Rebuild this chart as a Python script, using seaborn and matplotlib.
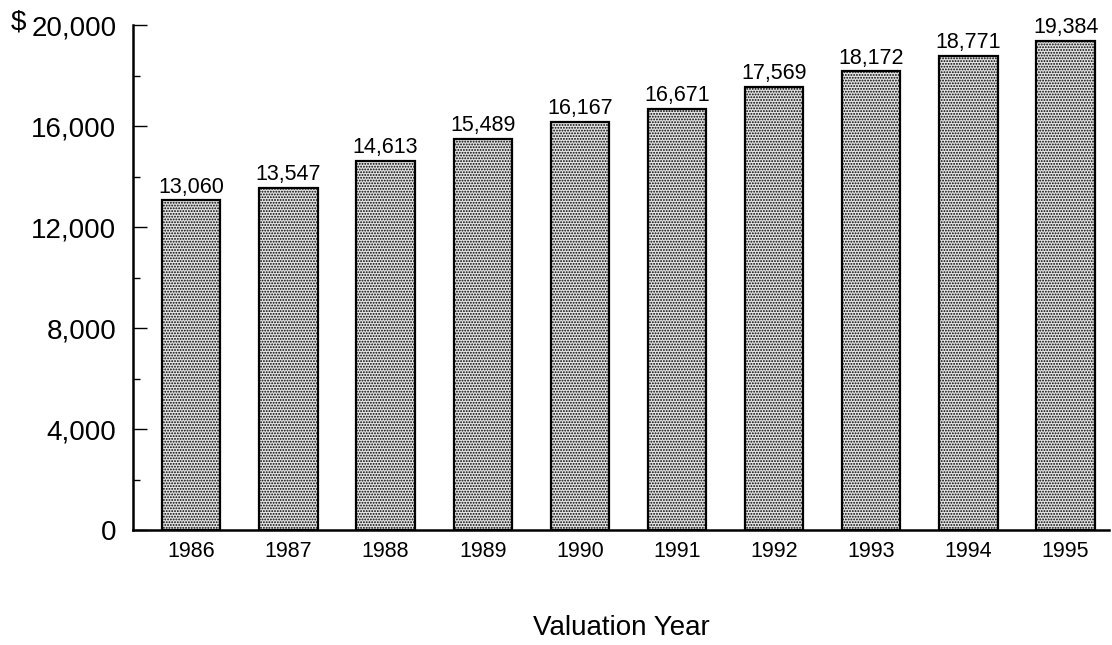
import numpy as np
import pandas as pd
import matplotlib
matplotlib.use("Agg")
import matplotlib.pyplot as plt
import seaborn as sns
from matplotlib.ticker import MultipleLocator, FuncFormatter

years = ["1986", "1987", "1988", "1989", "1990", "1991", "1992", "1993", "1994", "1995"]
values = [13060, 13547, 14613, 15489, 16167, 16671, 17569, 18172, 18771, 19384]

df = pd.DataFrame({"year": years, "value": values})

sns.set_style("white")
plt.rcParams["font.family"] = ["Liberation Sans", "DejaVu Sans"]
plt.rcParams["hatch.linewidth"] = 0.9
plt.rcParams["text.color"] = "black"
plt.rcParams["xtick.color"] = "black"
plt.rcParams["ytick.color"] = "black"
plt.rcParams["axes.labelcolor"] = "black"

fig = plt.figure(figsize=(11.12, 6.45), dpi=100)
ax = fig.add_axes([0.1196, 0.178, 0.878, 0.783])

sns.barplot(data=df, x="year", y="value", color="#e4e4e4", width=0.6,
            edgecolor="black", linewidth=1.6, ax=ax)
for p in ax.patches:
    p.set_hatch("......")

ax.bar_label(ax.containers[0], labels=[f"{v:,}" for v in values],
             padding=2, fontsize=15.5)

ax.set_ylim(0, 20000)
ax.set_xlim(-0.6, 9.45)
ax.yaxis.set_major_locator(MultipleLocator(4000))
ax.yaxis.set_minor_locator(MultipleLocator(2000))
ax.yaxis.set_major_formatter(FuncFormatter(lambda v, p: f"{v:,.0f}"))
ax.tick_params(axis="y", which="major", direction="in", length=10, width=1,
               labelsize=20, pad=12, left=True)
ax.tick_params(axis="y", which="minor", direction="in", length=5, width=1, left=True)
ax.tick_params(axis="x", direction="in", length=5, width=0.8, labelsize=15.5,
               pad=8, bottom=True)

sns.despine(ax=ax, top=True, right=True)
for s in ["left", "bottom"]:
    ax.spines[s].set_linewidth(1.8)
    ax.spines[s].set_color("black")

ax.set_xlabel("Valuation Year", fontsize=20, labelpad=38)
ax.set_ylabel("")
fig.text(0.010, 0.965, "$", fontsize=20, va="center")

fig.savefig("out.png", dpi=100)
